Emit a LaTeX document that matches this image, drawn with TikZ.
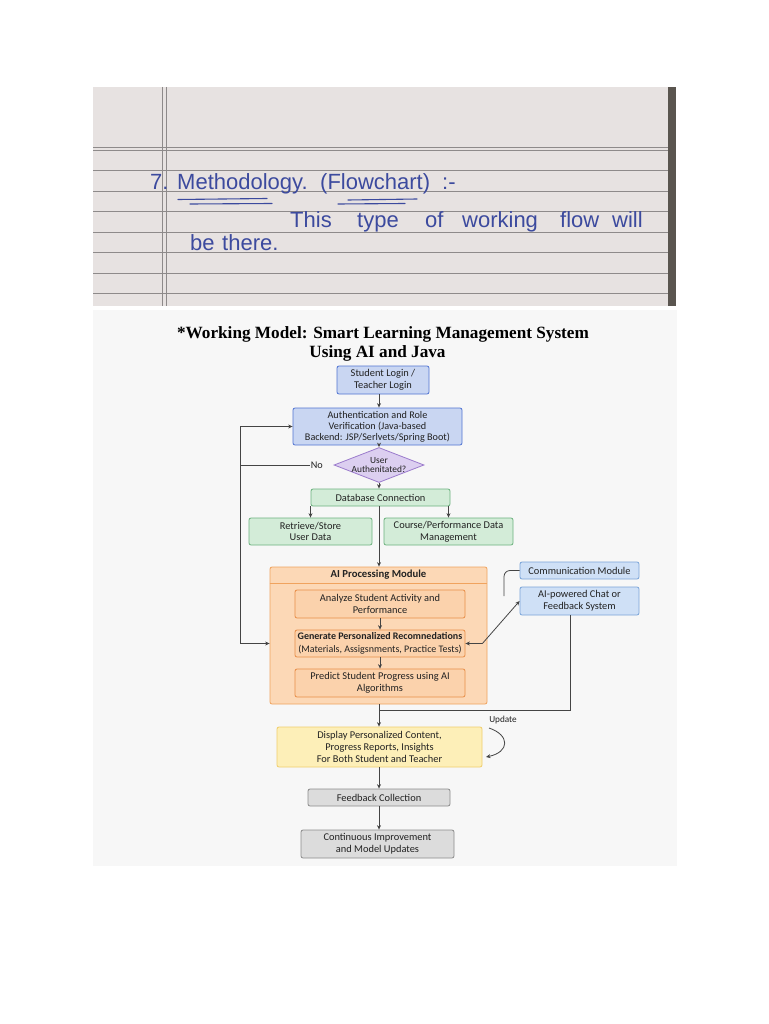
\documentclass[tikz,border=0pt]{standalone}
\usepackage{fontspec}
\setmainfont{Carlito}
\newfontfamily\titlefont{Liberation Serif}
\newfontfamily\handfont{Liberation Sans}
\usetikzlibrary{arrows.meta,shapes.geometric,calc}
\definecolor{paper}{HTML}{E7E2E1}
\definecolor{paperline}{HTML}{8E8A8A}
\definecolor{darkstrip}{HTML}{5A554F}
\definecolor{ink}{HTML}{3C4A9E}
\definecolor{chartbg}{HTML}{F7F7F7}
\definecolor{txt}{HTML}{222222}
\definecolor{conn}{HTML}{444444}
\definecolor{bluefill}{HTML}{C9D6F2}
\definecolor{blueline}{HTML}{5074D2}
\definecolor{purfill}{HTML}{DCCFF0}
\definecolor{purline}{HTML}{9B7BCC}
\definecolor{grnfill}{HTML}{D3ECD8}
\definecolor{grnline}{HTML}{6CB27E}
\definecolor{orgfill}{HTML}{FCD8B6}
\definecolor{orgline}{HTML}{F0A35E}
\definecolor{orgin}{HTML}{FBD2AC}
\definecolor{orginline}{HTML}{E88E48}
\definecolor{lbfill}{HTML}{CFE0F6}
\definecolor{lbline}{HTML}{7AA4D8}
\definecolor{yelfill}{HTML}{FDEFB8}
\definecolor{yelline}{HTML}{F0CE6C}
\definecolor{gryfill}{HTML}{DCDCDC}
\definecolor{gryline}{HTML}{8C8C8C}
\begin{document}
\begin{tikzpicture}[x=1pt,y=-1pt,
  box/.style={draw, rounded corners=2pt, line width=0.8pt, align=center, inner sep=0pt, text=txt, font=\fontsize{10.4}{11.7}\selectfont},
  arr/.style={draw=conn, line width=0.8pt, -{Stealth[length=4.5pt,width=4pt]}},
  ln/.style={draw=conn, line width=0.8pt},
  pline/.style={draw=paperline, line width=0.7pt},
  hand/.style={font=\handfont\fontsize{22}{22}\selectfont, text=ink, anchor=base west, inner sep=0pt},
  uline/.style={draw=ink, line width=1.1pt, line cap=round}]
\useasboundingbox (0,0) rectangle (768,1024);
\fill[white] (0,0) rectangle (768,1024);

% ---- photo of notebook ----
\fill[paper] (93,87) rectangle (668,306);
\fill[darkstrip] (668,87) rectangle (676,306);
\foreach \yy in {147.5,150.5,170.5,191,211.5,232,252.5,273,293.5}
  \draw[pline] (93,\yy) -- (668,\yy);
\draw[pline] (162.5,87) -- (162.5,306);
\draw[pline] (166,87) -- (166,306);

\node[hand] (h1) at (150,190) {\makebox[27pt][l]{7.}\makebox[143pt][l]{Methodology.}\makebox[122pt][l]{(Flowchart)}:-};
\node[hand] (h2) at (290,228) {\makebox[67pt][l]{This}\makebox[68pt][l]{type}\makebox[37pt][l]{of}\makebox[98pt][l]{working}\makebox[52pt][l]{flow}will};
\node[hand] (h3) at (190,251) {\makebox[32pt][l]{be}there.};
\draw[uline] (178,199.5) -- (267,198.5);
\draw[uline] (190,204) -- (272,203.5);
\draw[uline] (348,200) -- (417,199);
\draw[uline] (338,204) -- (405,203.5);

% ---- flowchart area ----
\fill[chartbg] (93,310) rectangle (677,866);
\node[font=\titlefont\bfseries\fontsize{17.2}{20}\selectfont, anchor=base, inner sep=0pt] (t1) at (383,338.5) {*Working Model: Smart Learning Management System};
\node[font=\titlefont\bfseries\fontsize{17.2}{20}\selectfont, anchor=base, inner sep=0pt] (t2) at (377.5,357) {Using AI and Java};

\coordinate (sp) at (379,0);
\node[box, fill=bluefill, draw=blueline, minimum width=92pt, minimum height=28pt] (login) at (383,380) {Student Login /\\Teacher Login};
\node[box, fill=bluefill, draw=blueline, minimum width=169pt, minimum height=37pt, font=\fontsize{10.2}{10.9}\selectfont] (auth) at (377.5,426.5) {Authentication and Role\\Verification (Java-based\\Backend: JSP/Serlvets/Spring Boot)};
\node[diamond, draw=purline, fill=purfill, line width=0.8pt, minimum width=90pt, minimum height=35pt, inner sep=0pt] (dia) at (379,465) {};
\node[text=txt, align=center, font=\fontsize{9.4}{9.8}\selectfont, inner sep=0pt] (diatext) at (dia.center) {User\\Authenitated?};
\node[box, fill=grnfill, draw=grnline, minimum width=139pt, minimum height=17pt] (db) at (380.5,497.5) {Database Connection};
\node[box, fill=grnfill, draw=grnline, minimum width=123pt, minimum height=27pt] (ret) at (310.5,531.5) {Retrieve/Store\\User Data};
\node[box, fill=grnfill, draw=grnline, minimum width=129pt, minimum height=27pt] (course) at (448.5,531.5) {Course/Performance Data\\Management};

\node[box, fill=orgfill, draw=orgline, minimum width=217pt, minimum height=137pt] (ai) at (378.5,635.5) {};
\coordinate (hd) at (0,583);
\draw[orgline, line width=0.8pt] (ai.west |- hd) -- (ai.east |- hd);
\node[font=\bfseries\fontsize{10.7}{12}\selectfont, text=txt, inner sep=0pt] (aihead) at (378.5,575) {AI Processing Module};
\node[box, fill=orgin, draw=orginline, minimum width=170pt, minimum height=28pt] (ana) at (380,604) {Analyze Student Activity and\\Performance};
\node[box, fill=orgin, draw=orginline, minimum width=170pt, minimum height=27pt, font=\fontsize{10}{12.5}\selectfont] (gen) at (380,643.5) {\textbf{Generate Personalized Recomnedations}\\(Materials, Assigsnments, Practice Tests)};
\node[box, fill=orgin, draw=orginline, minimum width=170pt, minimum height=28pt] (pred) at (380,683) {Predict Student Progress using AI\\Algorithms};

\node[box, fill=lbfill, draw=lbline, minimum width=119pt, minimum height=17pt] (comm) at (579.5,570.5) {Communication Module};
\node[box, fill=lbfill, draw=lbline, minimum width=119pt, minimum height=28pt] (chat) at (579.5,601) {AI-powered Chat or\\Feedback System};

\node[box, fill=yelfill, draw=yelline, minimum width=205pt, minimum height=40pt] (disp) at (379.5,747) {Display Personalized Content,\\Progress Reports, Insights\\For Both Student and Teacher};
\node[box, fill=gryfill, draw=gryline, minimum width=142pt, minimum height=17pt] (fb) at (379,797.5) {Feedback Collection};
\node[box, fill=gryfill, draw=gryline, minimum width=153pt, minimum height=28pt] (cont) at (377.5,844) {Continuous Improvement\\and Model Updates};

% connectors
\draw[arr] (login.south -| sp) -- (auth.north -| sp);
\draw[arr] (auth.south -| sp) -- (dia.north);
\draw[arr] (dia.south) -- (db.north -| dia.south);
\draw[arr] (db.south -| ret.north) -- (ret.north);
\draw[arr] (db.south -| course.north) -- (course.north);
\draw[arr] (db.south -| sp) -- (ai.north -| sp);
\draw[arr] (ana.south) -- (gen.north);
\draw[arr] (gen.south) -- (pred.north);
\draw[arr] (ai.south -| sp) -- (disp.north -| sp);
\draw[arr] (disp.south -| sp) -- (fb.north -| sp);
\draw[arr] (fb.south -| sp) -- (cont.north -| sp);

\node[text=txt, font=\fontsize{10.2}{12}\selectfont, inner sep=1pt, anchor=east] (no) at (324,465) {No};
\coordinate (lx) at (240,465);
\draw[ln] (no.west) -- (lx);
\draw[arr] (lx) |- (auth.west);
\draw[arr] (lx) |- (ai.west |- gen);

\draw[draw=conn, line width=0.8pt, {Stealth[length=4.5pt,width=4pt]}-{Stealth[length=4.5pt,width=4pt]}] (gen.east) -- ++(17,0) -- (chat.west);
\coordinate (cb) at ($(chat.south)+(-9.5,0)$);
\coordinate (jn) at (379,710);
\draw[ln] (cb) |- (jn);
\coordinate (ce) at (504,596);
\draw[ln, rounded corners=6pt] (comm.west) -| (ce);

\node[text=txt, font=\fontsize{9.2}{10}\selectfont, inner sep=0pt] (upd) at (503,720) {Update};
\coordinate (u1) at (489,728);
\coordinate (u2) at (486,757);
\draw[arr] (u1) .. controls (510,735) and (510,752) .. (u2);
\end{tikzpicture}
\end{document}
